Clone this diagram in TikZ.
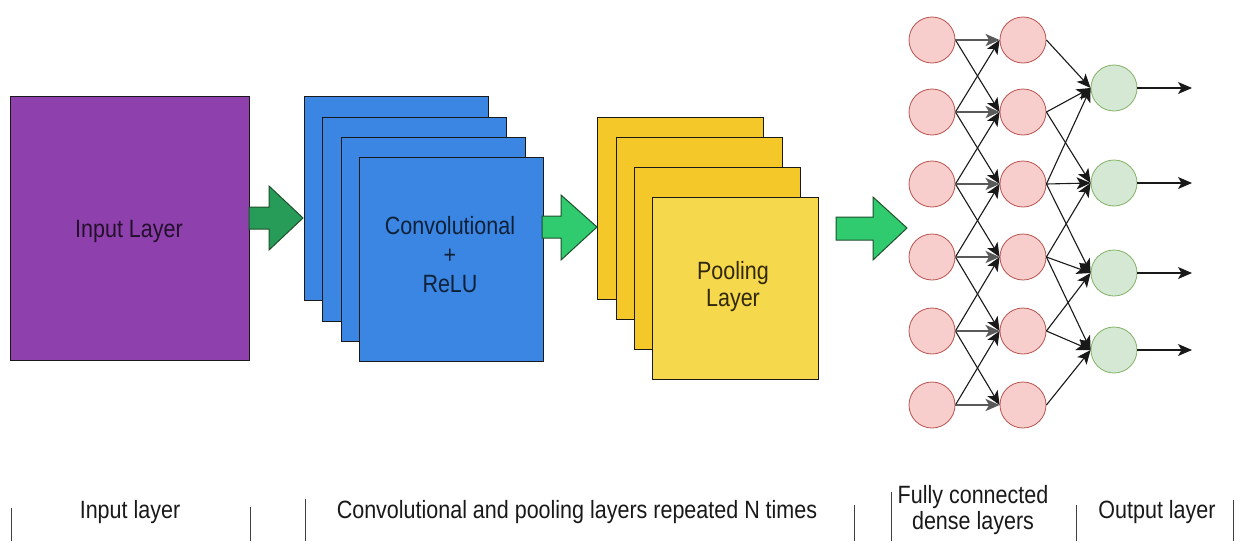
\documentclass[tikz,border=0pt]{standalone}
\usepackage{fontspec}
\setmainfont{Liberation Sans}[FakeStretch=0.86]
\usetikzlibrary{arrows.meta}

\definecolor{inpurple}{RGB}{142,64,172}
\definecolor{convblue}{RGB}{58,134,226}
\definecolor{poolback}{RGB}{245,200,42}
\definecolor{poolfront}{RGB}{245,216,76}
\definecolor{flowdark}{RGB}{38,156,88}
\definecolor{flowlight}{RGB}{47,203,110}
\definecolor{flowedge}{RGB}{30,80,45}
\definecolor{hidfill}{RGB}{248,206,204}
\definecolor{hidedge}{RGB}{184,84,80}
\definecolor{outfill}{RGB}{213,232,212}
\definecolor{outedge}{RGB}{130,179,102}

\tikzset{
  txt/.style={font=\fontsize{25}{29}\selectfont, align=center, inner sep=0pt},
  layerbox/.style={draw=black!90, line width=1.2pt, anchor=north west, inner sep=0pt},
  convbox/.style={layerbox, fill=convblue, minimum width=184pt, minimum height=204pt},
  poolbox/.style={layerbox, fill=poolback, minimum width=166pt, minimum height=182pt},
  flow/.style={draw=flowedge, line width=1pt, line join=miter},
  hidden/.style={circle, draw=hidedge, fill=hidfill, line width=0.8pt, minimum size=46pt, inner sep=0pt},
  outnode/.style={circle, draw=outedge, fill=outfill, line width=0.8pt, minimum size=46pt, inner sep=0pt},
  conn/.style={draw=black!90, line width=1.1pt, -{Stealth[length=14pt,width=12pt,inset=3.5pt]}},
  straight/.style={conn, draw=black!65, line width=2.2pt},
  divider/.style={draw=black!75, line width=1pt}
}

\begin{document}
\begin{tikzpicture}[x=1pt, y=-1pt]
\useasboundingbox (0,0) rectangle (1245,541);
\fill[white] (0,0) rectangle (1245,541);

% input layer
\node[layerbox, fill=inpurple, minimum width=239pt, minimum height=264pt] (input) at (10,96) {};
\node[txt, text=inpurple!25!black, anchor=base] (inputtext) at (129,237) {Input Layer};

% convolution stack
\node[convbox] (conv1) at (304,96) {};
\node[convbox] (conv2) at (322,117) {};
\node[convbox] (conv3) at (341,137) {};
\node[convbox] (conv4) at (359,157) {};
\node[txt, text=convblue!25!black] (convtext) at (450,255) {Convolutional\\+\\ReLU};

% pooling stack
\node[poolbox] (pool1) at (597,117) {};
\node[poolbox] (pool2) at (616,137) {};
\node[poolbox] (pool3) at (634,167) {};
\node[poolbox, fill=poolfront] (pool4) at (652,197) {};
\node[txt, text=poolback!20!black, font=\fontsize{25}{27}\selectfont] (pooltext) at (733,287) {Pooling\\Layer};

% block arrows between stages
\path[flow, fill=flowdark] (249,207) -- (269,207) -- (269,186) -- (303,218) -- (269,250) -- (269,229) -- (249,229) -- cycle;
\path[flow, fill=flowlight] (542,216) -- (561,216) -- (561,195) -- (597,227) -- (561,260) -- (561,238) -- (542,238) -- cycle;
\path[flow, fill=flowlight] (836,217) -- (873,217) -- (873,197) -- (907,228) -- (873,260) -- (873,240) -- (836,240) -- cycle;

% dense layers
\foreach \yy [count=\i] in {40,112,184,257,331,405} {
  \node[hidden] (a\i) at (932,\yy) {};
  \node[hidden] (b\i) at (1023,\yy) {};
}
\foreach \yy [count=\k] in {88,183,273,350} {
  \node[outnode] (c\k) at (1114,\yy) {};
  \coordinate (o\k) at (1192,\yy);
}

% first dense layer to second: each neuron feeds its neighbours
\foreach \i in {1,...,6} {
  \foreach \d in {-1,1} {
    \pgfmathtruncatemacro\j{\i+\d}
    \ifnum\j>0 \ifnum\j<7
      \draw[conn] (a\i.east) -- (b\j.west);
    \fi\fi
  }
  \draw[straight] (a\i.east) -- (b\i.west);
}

% second dense layer to output layer
\foreach \k in {1,...,4} {
  \foreach \d in {0,1,2} {
    \pgfmathtruncatemacro\j{\k+\d}
    \draw[conn] (b\j.east) -- (c\k.west);
  }
  \draw[conn] (c\k.east) -- (o\k);
}

% stage captions
\node[txt, text=black!90] (capin) at (130,512) {Input layer};
\node[txt, text=black!90] (capconv) at (577,512) {Convolutional and pooling layers repeated N times};
\node[txt, text=black!90, font=\fontsize{25}{26}\selectfont] (capfc) at (973,510) {Fully connected\\dense layers};
\node[txt, text=black!90] (capout) at (1157,512) {Output layer};

\draw[divider] (11,508) -- (11,541);
\draw[divider] (250,507) -- (250,541);
\draw[divider] (305,499) -- (305,541);
\draw[divider] (854,505) -- (854,541);
\draw[divider] (891,492) -- (891,541);
\draw[divider] (1076,505) -- (1076,541);
\draw[divider] (1233,500) -- (1233,541);
\end{tikzpicture}
\end{document}
